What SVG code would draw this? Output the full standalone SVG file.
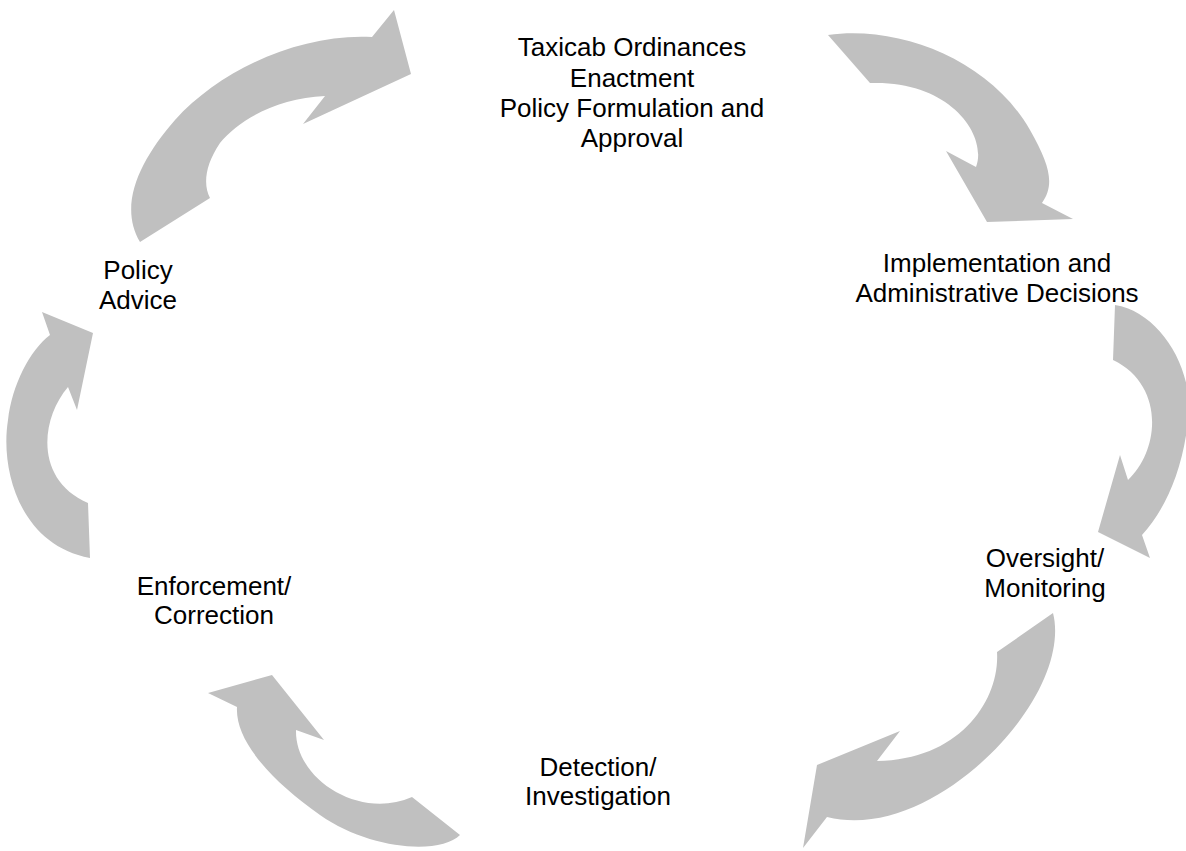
<svg xmlns="http://www.w3.org/2000/svg" width="1186" height="851" viewBox="0 0 1186 851">
<style>
.arrow{fill:#C0C0C0;stroke:none}
.lbl{font-family:"Liberation Sans",Arial,sans-serif;font-size:26px;fill:#000;text-anchor:middle}
</style>
<rect width="1186" height="851" fill="#fff"/>
<g id="connectors">
<path class="arrow" d="M140,242 L210,198 C203,185 205,165 220,143 C240,118 280,98 325,96 L303,124 L411,74 L394,10 L372,37 C300,33 220,70 175,120 C140,160 118,205 140,242 Z"/>
<path class="arrow" d="M828,35 C900,25 990,60 1030,130 C1050,165 1055,185 1042,203 L1073,219 L987,222 L946,151 L976,167 C988,135 950,80 870,83 Z"/>
<path class="arrow" d="M1115,305 C1160,312 1195,370 1188,420 C1183,470 1165,510 1142,535 L1150,558 L1098,532 L1120,455 L1128,480 C1160,450 1165,385 1113,360 Z"/>
<path class="arrow" d="M1053,613 L997,652 C1000,700 960,760 877,761 L900,731 L817,765 L803,848 L827,817 C900,835 980,775 1020,720 C1050,680 1060,640 1053,613 Z"/>
<path class="arrow" d="M208,693 L272,675 L324,740 L296,730 C295,780 360,820 412,797 L460,835 C440,855 370,850 320,815 C270,780 235,740 237,707 Z"/>
<path class="arrow" d="M42,312 L93,333 L77,410 L68,387 C40,420 35,480 88,503 L90,558 C20,545 0,470 8,420 C12,385 30,350 50,335 Z"/>
</g>
<g id="node-policy">
<text class="lbl" x="632" y="56">Taxicab Ordinances</text>
<text class="lbl" x="632" y="87">Enactment</text>
<text class="lbl" x="632" y="117">Policy Formulation and</text>
<text class="lbl" x="632" y="147">Approval</text>
</g>
<g id="node-implementation">
<text class="lbl" x="997" y="272">Implementation and</text>
<text class="lbl" x="997" y="302">Administrative Decisions</text>
</g>
<g id="node-oversight">
<text class="lbl" x="1045" y="567">Oversight/</text>
<text class="lbl" x="1045" y="597">Monitoring</text>
</g>
<g id="node-detection">
<text class="lbl" x="598" y="776">Detection/</text>
<text class="lbl" x="598" y="805">Investigation</text>
</g>
<g id="node-enforcement">
<text class="lbl" x="214" y="595">Enforcement/</text>
<text class="lbl" x="214" y="624">Correction</text>
</g>
<g id="node-advice">
<text class="lbl" x="138" y="279">Policy</text>
<text class="lbl" x="138" y="309">Advice</text>
</g>
</svg>
